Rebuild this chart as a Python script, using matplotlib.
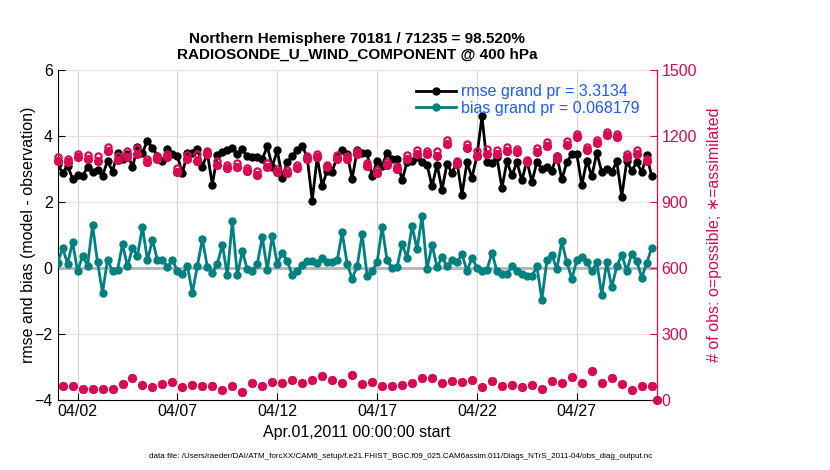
import numpy as np
import pandas as pd
import matplotlib
matplotlib.use('Agg')
import matplotlib.pyplot as plt
import matplotlib.dates as mdates

plt.rcParams['font.family'] = ['Liberation Sans', 'DejaVu Sans']

# 6-hourly bins, Apr 1 00Z .. Apr 30 18Z
rmse = [3.15, 2.87, 3.10, 2.70, 2.80, 2.77, 3.07, 2.92, 2.98, 2.79,
        3.25, 2.92, 3.49, 3.30, 3.45, 3.05, 3.66, 3.49, 3.86, 3.64,
        3.40, 3.23, 3.60, 3.45, 3.38, 2.88, 3.48, 3.49, 3.60, 3.07,
        3.47, 2.52, 3.43, 3.51, 3.56, 3.64, 3.45, 3.59, 3.38, 3.37,
        3.37, 3.30, 3.68, 3.07, 3.56, 2.73, 3.20, 3.40, 3.58, 3.70,
        3.35, 2.04, 3.35, 2.48, 2.95, 2.92, 3.37, 3.56, 3.45, 2.70,
        3.56, 3.49, 3.47, 2.77, 3.25, 3.09, 3.49, 3.30, 3.30, 2.65,
        3.21, 3.23, 3.35, 3.20, 3.13, 2.47, 3.13, 2.37, 3.15, 2.88,
        3.20, 2.22, 3.20, 2.73, 3.40, 4.59, 3.20, 3.17, 3.35, 2.42,
        3.23, 2.80, 3.20, 2.65, 3.25, 2.60, 3.20, 3.00, 3.05, 2.95,
        3.40, 2.68, 3.20, 3.45, 3.45, 2.50, 3.25, 2.77, 3.49, 2.90,
        3.00, 2.90, 3.23, 2.16, 3.23, 2.95, 3.20, 2.90, 3.42, 2.77]

bias = [0.14, 0.60, 0.12, 0.78, -0.11, 0.36, 0.06, 1.29, 0.16, -0.76,
        0.24, -0.10, -0.08, 0.72, 0.04, 0.60, 0.37, 1.23, 0.22, 0.85,
        0.22, 0.24, 0.02, 0.24, -0.10, -0.20, 0.05, -0.76, 0.06, 0.87,
        0.02, -0.16, 0.12, 0.70, -0.23, 1.42, -0.23, 0.50, -0.05, -0.11,
        0.12, 0.93, -0.06, 0.96, 0.12, 0.45, 0.19, -0.21, -0.10, 0.09,
        0.20, 0.20, 0.14, 0.29, 0.16, 0.16, 0.22, 1.07, 0.12, -0.33,
        0.04, 1.01, -0.24, -0.10, 0.16, 1.24, 0.22, -0.01, 0.02, 0.73,
        0.30, 1.27, 0.56, 1.56, -0.05, 0.70, 0.02, 0.32, 0.04, 0.22,
        0.17, 0.41, -0.10, 0.30, 0.00, -0.10, -0.06, 0.45, -0.10, -0.18,
        -0.20, 0.05, -0.10, -0.20, -0.24, -0.26, 0.04, -0.97, 0.22, 0.40,
        -0.05, 0.80, 0.16, -0.33, 0.22, 0.32, 0.16, -0.11, 0.16, -0.82,
        0.16, -0.59, 0.04, 0.40, -0.10, 0.43, 0.20, -0.30, 0.14, 0.61]

# obs counts at 00Z/12Z (last bin May 1 00Z is empty)
n_poss = [1106, 1095, 1118, 1115, 1110, 1151, 1107, 1130, 1144, 1095,
          1110, 1118, 1054, 1113, 1118, 1133, 1088, 1069, 1075, 1054,
          1039, 1075, 1050, 1046, 1069, 1107, 1118, 1069, 1113, 1110,
          1133, 1078, 1045, 1080, 1065, 1113, 1136, 1133, 1130, 1182,
          1088, 1164, 1133, 1141, 1136, 1148, 1141, 1092, 1144, 1174,
          1107, 1176, 1209, 1151, 1182, 1218, 1209, 1118, 1136, 1095, 0]
n_used = [1084, 1080, 1103, 1095, 1084, 1133, 1092, 1103, 1118, 1080,
          1095, 1103, 1034, 1095, 1084, 1118, 1069, 1054, 1060, 1042,
          1024, 1057, 1034, 1030, 1054, 1095, 1103, 1057, 1095, 1095,
          1116, 1065, 1030, 1069, 1050, 1095, 1118, 1118, 1110, 1164,
          1072, 1145, 1110, 1118, 1118, 1133, 1126, 1080, 1126, 1156,
          1095, 1160, 1194, 1136, 1167, 1205, 1194, 1103, 1118, 1088, 0]
# obs counts at 06Z/18Z (possible == assimilated)
n_off = [61, 61, 50, 50, 50, 50, 70, 96, 65, 57,
         70, 80, 57, 68, 61, 61, 45, 61, 35, 76,
         61, 79, 76, 91, 73, 88, 108, 91, 73, 111,
         70, 79, 61, 61, 68, 76, 99, 99, 76, 84,
         79, 88, 57, 85, 61, 64, 57, 65, 50, 85,
         73, 103, 76, 129, 76, 96, 70, 45, 61, 61]

t6 = pd.date_range('2011-04-01 00:00', periods=len(rmse), freq='6h')
t_on = pd.date_range('2011-04-01 00:00', periods=len(n_poss), freq='12h')
t_off = pd.date_range('2011-04-01 06:00', periods=len(n_off), freq='12h')

crimson = '#d70a53'
teal = '#008080'

fig = plt.figure(figsize=(8.3, 4.7), dpi=100)
ax = fig.add_axes([0.0694, 0.150, 0.7218, 0.701])
ax2 = ax.twinx()

ax.axhline(0, color='#b4b4b4', lw=2, zorder=1)
l1, = ax.plot(t6, rmse, '-o', color='k', lw=2, ms=5, zorder=3)
l2, = ax.plot(t6, bias, '-o', color=teal, lw=2, ms=5, zorder=3)

star = (8, 2, 0)
ax2.plot(t_on, n_poss, 'o', ls='none', mfc='none', mec=crimson, ms=4.5, mew=1.6, clip_on=False)
ax2.plot(t_on, n_used, marker=star, ls='none', color=crimson, ms=6.5, mew=1.8, clip_on=False)
ax2.plot(t_off, n_off, 'o', ls='none', mfc='none', mec=crimson, ms=4.5, mew=1.6, clip_on=False)
ax2.plot(t_off, n_off, marker=star, ls='none', color=crimson, ms=6.5, mew=1.8, clip_on=False)

ax.set_xlim(t_on[0], t_on[-1])
ax.set_ylim(-4, 6)
ax.set_yticks(np.arange(-4, 7, 2))
ax2.set_ylim(0, 1500)
ax2.set_yticks(np.arange(0, 1501, 300))
ax.set_xticks(pd.date_range('2011-04-02', periods=6, freq='5D'))
ax.xaxis.set_major_formatter(mdates.DateFormatter('%m/%d'))

ax.grid(axis='x', color='#d8d8d8', lw=0.8)
ax.grid(axis='y', color='#f5dbe4', lw=0.8)
ax.set_axisbelow(True)

ax.tick_params(direction='in', length=5, labelsize=11.5)
ax2.tick_params(direction='in', length=5, labelsize=11.5, colors=crimson)
for a in (ax, ax2):
    a.spines['top'].set_visible(False)
ax2.spines['left'].set_visible(False)
ax2.spines['bottom'].set_visible(False)
ax2.spines['right'].set_color(crimson)

ax.set_ylabel('rmse and bias (model - observation)', fontsize=11.5, labelpad=-1)
ax2.set_ylabel('# of obs: o=possible; \u2217=assimilated', fontsize=11.5, color=crimson, labelpad=7)
ax.set_xlabel('Apr.01,2011 00:00:00 start', fontsize=11.5)
ax.set_title('Northern Hemisphere 70181 / 71235 = 98.520%\nRADIOSONDE_U_WIND_COMPONENT @ 400 hPa',
             fontsize=11, fontweight='bold', pad=8)

ax2.legend([l1, l2], ['rmse grand pr = 3.3134', 'bias grand pr = 0.068179'],
           loc='upper right', frameon=False, labelcolor='#1a5cff', fontsize=11.5,
           handlelength=2.5, handletextpad=0.3, labelspacing=0.1,
           bbox_to_anchor=(0.995, 1.0))

fig.text(0.483, 0.026, 'data file: /Users/raeder/DAI/ATM_forcXX/CAM6_setup/f.e21.FHIST_BGC.f09_025.CAM6assim.011/Diags_NTrS_2011-04/obs_diag_output.nc',
         ha='center', fontsize=5.8)

fig.savefig('out.png', dpi=100)
